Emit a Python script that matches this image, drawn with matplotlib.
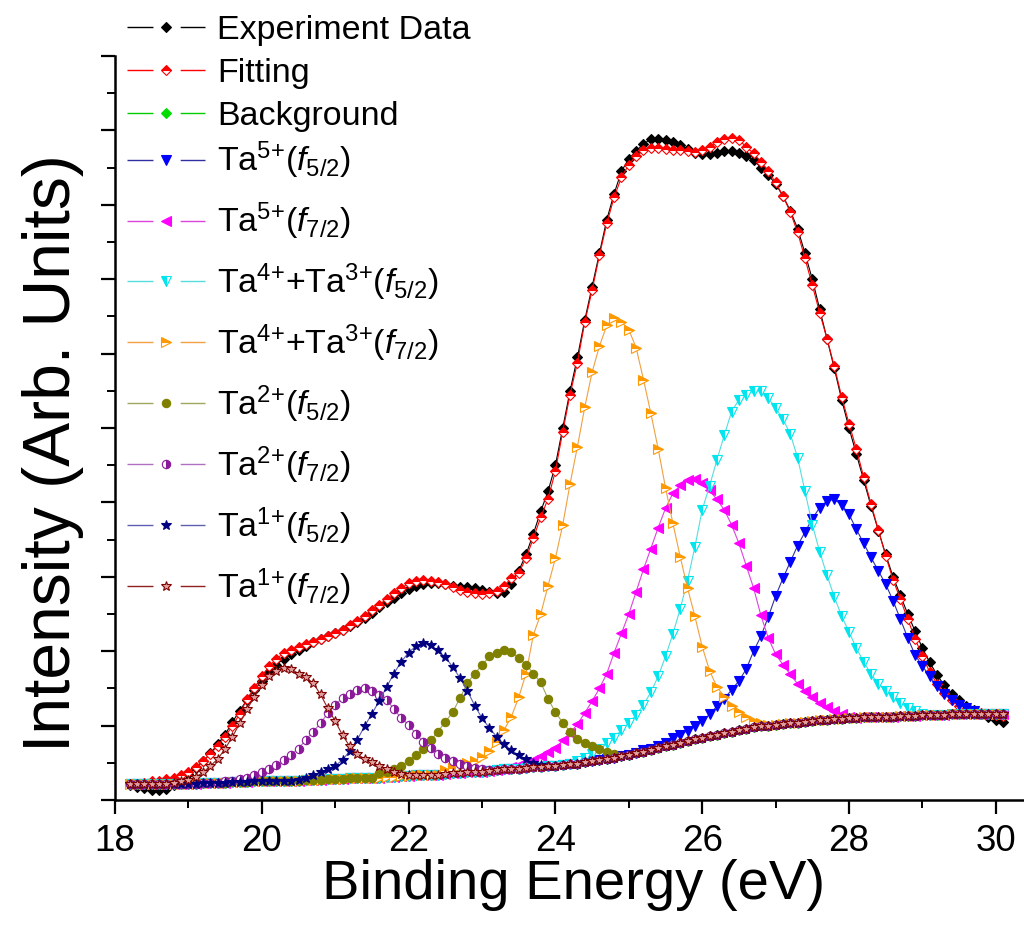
import numpy as np
import matplotlib
matplotlib.use("Agg")
import matplotlib.pyplot as plt
from matplotlib.lines import Line2D
from matplotlib.ticker import MultipleLocator, NullFormatter

plt.rcParams['font.family'] = 'Liberation Sans'
plt.rcParams['mathtext.fontset'] = 'custom'
plt.rcParams['mathtext.rm'] = 'Liberation Sans'
plt.rcParams['mathtext.it'] = 'Liberation Sans:italic'

# binding energy grid, 0.1 eV step
energy = np.round(np.arange(18.2, 30.15, 0.1), 1)

experiment = [
	0.20, 0.18, 0.16, 0.14, 0.13, 0.15, 0.20, 0.27,
	0.35, 0.43, 0.52, 0.63, 0.75, 0.88, 1.05, 1.20, 1.35, 1.48,
	1.60, 1.72, 1.82, 1.90, 1.96, 2.02, 2.07, 2.12, 2.16, 2.20,
	2.24, 2.28, 2.34, 2.39, 2.45, 2.52, 2.60, 2.66, 2.72, 2.78,
	2.84, 2.88, 2.90, 2.91, 2.91, 2.90, 2.88, 2.86, 2.86, 2.85,
	2.82, 2.79, 2.78, 2.80, 2.90, 3.08, 3.30, 3.58, 3.88, 4.15,
	4.50, 5.00, 5.50, 5.95, 6.45, 6.90, 7.35, 7.80, 8.15, 8.45,
	8.62, 8.72, 8.82, 8.88, 8.88, 8.87, 8.85, 8.80, 8.75, 8.70,
	8.68, 8.68, 8.70, 8.72, 8.72, 8.70, 8.66, 8.60, 8.50, 8.40,
	8.28, 8.12, 7.92, 7.68, 7.35, 7.00, 6.60, 6.20, 5.80, 5.38,
	5.00, 4.65, 4.30, 3.95, 3.62, 3.30, 3.00, 2.75, 2.50, 2.27,
	2.04, 1.85, 1.68, 1.54, 1.43, 1.34, 1.27, 1.21, 1.16, 1.12,
	1.08, 1.05]

fitting = [
	0.21, 0.22, 0.23, 0.25, 0.26, 0.28, 0.29, 0.33,
	0.38, 0.45, 0.52, 0.62, 0.73, 0.85, 1.00, 1.16, 1.36, 1.51,
	1.66, 1.80, 1.90, 1.97, 2.02, 2.06, 2.10, 2.13, 2.17, 2.20,
	2.24, 2.29, 2.35, 2.40, 2.47, 2.55, 2.62, 2.70, 2.78, 2.85,
	2.91, 2.95, 2.96, 2.95, 2.93, 2.90, 2.86, 2.82, 2.80, 2.78,
	2.77, 2.78, 2.81, 2.88, 2.98, 3.05, 3.25, 3.52, 3.80, 4.05,
	4.42, 4.95, 5.45, 5.88, 6.42, 6.85, 7.32, 7.75, 8.10, 8.37,
	8.54, 8.66, 8.73, 8.76, 8.76, 8.75, 8.74, 8.73, 8.72, 8.71,
	8.73, 8.78, 8.84, 8.88, 8.90, 8.87, 8.78, 8.69, 8.58, 8.45,
	8.30, 8.12, 7.90, 7.63, 7.28, 6.92, 6.55, 6.20, 5.83, 5.42,
	5.06, 4.72, 4.34, 3.98, 3.63, 3.28, 2.96, 2.70, 2.43, 2.17,
	1.93, 1.72, 1.56, 1.44, 1.35, 1.27, 1.21, 1.19, 1.17, 1.15,
	1.14, 1.13]

background = [
	0.21, 0.21, 0.21, 0.21, 0.21, 0.22, 0.22, 0.22,
	0.22, 0.22, 0.23, 0.23, 0.23, 0.23, 0.24, 0.24, 0.24, 0.25,
	0.25, 0.25, 0.25, 0.26, 0.26, 0.26, 0.27, 0.27, 0.27, 0.28,
	0.28, 0.28, 0.29, 0.29, 0.30, 0.30, 0.30, 0.31, 0.31, 0.32,
	0.32, 0.33, 0.33, 0.34, 0.34, 0.35, 0.36, 0.36, 0.37, 0.38,
	0.38, 0.39, 0.40, 0.41, 0.42, 0.42, 0.43, 0.44, 0.45, 0.46,
	0.46, 0.47, 0.48, 0.49, 0.51, 0.52, 0.54, 0.55, 0.57, 0.59,
	0.61, 0.63, 0.65, 0.67, 0.70, 0.72, 0.74, 0.77, 0.79, 0.82,
	0.84, 0.86, 0.88, 0.90, 0.92, 0.94, 0.96, 0.98, 0.99, 1.00,
	1.01, 1.02, 1.03, 1.04, 1.05, 1.06, 1.07, 1.08, 1.09, 1.09,
	1.10, 1.10, 1.11, 1.11, 1.12, 1.12, 1.12, 1.13, 1.13, 1.13,
	1.14, 1.14, 1.14, 1.14, 1.15, 1.15, 1.15, 1.15, 1.15, 1.15,
	1.15, 1.15]

# component peaks: values where they rise above the background, and the energy they start at
ta5_f52_start = 25.2
ta5_f52 = [
	0.67, 0.69, 0.73, 0.77, 0.83, 0.88, 0.93, 0.99,
	1.06, 1.15, 1.26, 1.36, 1.48, 1.60, 1.76, 2.00, 2.20, 2.46,
	2.74, 2.98, 3.20, 3.42, 3.60, 3.78, 3.93, 4.02, 4.04, 3.97,
	3.84, 3.64, 3.45, 3.26, 3.08, 2.90, 2.68, 2.43, 2.18, 1.95,
	1.80, 1.66, 1.53, 1.42, 1.34, 1.28, 1.23, 1.19, 1.16, 1.15]

ta5_f72_start = 23.3
ta5_f72 = [
	0.42, 0.44, 0.47, 0.50, 0.54, 0.59, 0.65,
	0.70, 0.80, 0.90, 1.02, 1.17, 1.33, 1.50, 1.70, 1.98, 2.24,
	2.50, 2.80, 3.10, 3.38, 3.66, 3.92, 4.12, 4.23, 4.30, 4.32,
	4.26, 4.16, 4.04, 3.90, 3.70, 3.45, 3.15, 2.85, 2.48, 2.18,
	1.96, 1.82, 1.69, 1.56, 1.46, 1.38, 1.31, 1.25, 1.20, 1.16,
	1.12]

ta43_f52_start = 24.3
ta43_f52 = [
	0.52, 0.56, 0.62, 0.68, 0.76, 0.84, 0.94,
	1.04, 1.14, 1.28, 1.45, 1.66, 1.93, 2.23, 2.57, 2.95, 3.40,
	3.90, 4.22, 4.57, 4.90, 5.22, 5.38, 5.45, 5.50, 5.50, 5.40,
	5.27, 5.12, 4.92, 4.60, 4.15, 3.70, 3.34, 3.02, 2.73, 2.47,
	2.26, 2.04, 1.86, 1.69, 1.56, 1.47, 1.39, 1.31, 1.24, 1.19,
	1.16]

ta43_f72_start = 22.5
ta43_f72 = [
	0.40, 0.43, 0.46, 0.50, 0.53,
	0.58, 0.66, 0.78, 0.94, 1.12, 1.38, 1.70, 2.22, 2.50, 2.88,
	3.25, 3.70, 4.25, 4.75, 5.28, 5.75, 6.10, 6.38, 6.48, 6.43,
	6.32, 6.08, 5.65, 5.20, 4.72, 4.20, 3.72, 3.27, 2.85, 2.47,
	2.06, 1.74, 1.52, 1.39, 1.27, 1.18, 1.11, 1.06, 1.03, 1.01]

ta2_f52_start = 21.6
ta2_f52 = [
	0.36, 0.38, 0.41, 0.46,
	0.53, 0.60, 0.69, 0.80, 0.92, 1.05, 1.18, 1.37, 1.57, 1.70,
	1.81, 1.93, 1.98, 2.02, 1.99, 1.91, 1.82, 1.70, 1.58, 1.36,
	1.18, 1.04, 0.92, 0.82, 0.77, 0.72, 0.68, 0.65, 0.62]

ta2_f72_start = 19.5
ta2_f72 = [
	0.25, 0.26, 0.28, 0.30, 0.34,
	0.37, 0.41, 0.47, 0.54, 0.61, 0.69, 0.81, 0.92, 1.03, 1.17,
	1.28, 1.37, 1.43, 1.48, 1.50, 1.47, 1.41, 1.35, 1.22, 1.10,
	1.01, 0.89, 0.78, 0.70, 0.62, 0.56, 0.52, 0.49, 0.46, 0.43,
	0.41, 0.40]

ta1_f52_start = 20.5
ta1_f52 = [
	0.27, 0.29, 0.33, 0.37, 0.41,
	0.46, 0.54, 0.66, 0.81, 0.99, 1.16, 1.33, 1.52, 1.70, 1.86,
	1.98, 2.07, 2.11, 2.08, 2.01, 1.92, 1.79, 1.64, 1.47, 1.27,
	1.10, 0.97, 0.85, 0.75, 0.67, 0.60, 0.55, 0.50, 0.47]

ta1_f72_start = 18.8
ta1_f72 = [
	0.23, 0.25,
	0.27, 0.31, 0.37, 0.46, 0.55, 0.69, 0.85, 1.03, 1.22, 1.39,
	1.55, 1.66, 1.74, 1.78, 1.76, 1.70, 1.65, 1.57, 1.42, 1.23,
	1.06, 0.87, 0.72, 0.62, 0.55, 0.51, 0.46, 0.41, 0.37, 0.35,
	0.33]

def on_background(start, values):
	y = np.array(background, dtype=float)
	i = int(np.argmin(np.abs(energy - start)))
	y[i:i+len(values)] = values
	return y

labels = [
	"Experiment Data",
	"Fitting",
	"Background",
	r"Ta$^{5{+}}$($\mathit{f}_{5/2}$)",
	r"Ta$^{5{+}}$($\mathit{f}_{7/2}$)",
	r"Ta$^{4{+}}$+Ta$^{3{+}}$($\mathit{f}_{5/2}$)",
	r"Ta$^{4{+}}$+Ta$^{3{+}}$($\mathit{f}_{7/2}$)",
	r"Ta$^{2{+}}$($\mathit{f}_{5/2}$)",
	r"Ta$^{2{+}}$($\mathit{f}_{7/2}$)",
	r"Ta$^{1{+}}$($\mathit{f}_{5/2}$)",
	r"Ta$^{1{+}}$($\mathit{f}_{7/2}$)",
]

series = [
	np.array(experiment),
	np.array(fitting),
	np.array(background),
	on_background(ta5_f52_start, ta5_f52),
	on_background(ta5_f72_start, ta5_f72),
	on_background(ta43_f52_start, ta43_f52),
	on_background(ta43_f72_start, ta43_f72),
	on_background(ta2_f52_start, ta2_f52),
	on_background(ta2_f72_start, ta2_f72),
	on_background(ta1_f52_start, ta1_f52),
	on_background(ta1_f72_start, ta1_f72),
]

# line colour, marker, face, edge, fillstyle, size
styles = [
	("#000000", "D", "#000000", "#000000", "full", 5.5),
	("#ff0000", "D", "#ff0000", "#ff0000", "top", 5.5),
	("#00cc00", "D", "#00dd00", "#00dd00", "full", 5.5),
	("#3030a0", "v", "#0000ff", "#0000ff", "full", 6.5),
	("#dd44dd", "<", "#ff00ff", "#ff00ff", "full", 6.5),
	("#55dddd", "v", "#00e5ee", "#00e5ee", "left", 6.5),
	("#f0a040", ">", "#ff9900", "#ff9900", "top", 6.5),
	("#a0a860", "o", "#808000", "#808000", "full", 6.0),
	("#b070c0", "o", "#8b1a9b", "#8b1a9b", "right", 6.0),
	("#6060b0", "*", "#000080", "#000080", "full", 7.5),
	("#902020", "*", "#e0a0a0", "#800000", "full", 7.5),
]

fig = plt.figure(figsize=(10.24, 9.3), dpi=100)
ax = fig.add_axes([115/1024, 130/930, 909/1024, 744/930])

handles = []
for y, lab, (lc, m, fc, ec, fs, ms) in zip(series, labels, styles):
	ax.plot(energy, y, color=lc, lw=0.8, marker=m, ms=ms, mfc=fc, mec=ec,
		mew=0.8, fillstyle=fs, markerfacecoloralt="white")
	handles.append(Line2D([], [], color=lc, lw=1.0, dashes=(18.7, 19.6),
		marker=m, ms=ms, mfc=fc, mec=ec, mew=0.8, fillstyle=fs,
		markerfacecoloralt="white", label=lab))

ax.set_xlim(18, 18 + 909/73.4)
ax.set_ylim(0, 10)
ax.xaxis.set_major_locator(MultipleLocator(2))
ax.xaxis.set_minor_locator(MultipleLocator(1))
ax.yaxis.set_major_locator(MultipleLocator(1))
ax.yaxis.set_minor_locator(MultipleLocator(0.5))
ax.yaxis.set_major_formatter(NullFormatter())

for s in ["top", "right"]:
	ax.spines[s].set_visible(False)
for s in ["left", "bottom"]:
	ax.spines[s].set_linewidth(1.8)

ax.tick_params(which="major", direction="out", length=10, width=1.6, labelsize=26.5, pad=7)
ax.tick_params(which="minor", direction="out", length=5.5, width=1.4)

ax.set_xlabel("Binding Energy (eV)", fontsize=40.5)
ax.set_ylabel("Intensity (Arb. Units)", fontsize=47.5)
ax.xaxis.set_label_coords(0.504, -0.079)
ax.yaxis.set_label_coords(-0.034, 0.466)

# plain entries and the Ta entries are spaced differently, so two legends
leg_opts = dict(loc="upper left", bbox_transform=fig.transFigure, frameon=False,
	fontsize=24.5, handlelength=2.29, handletextpad=0.35,
	borderpad=0, borderaxespad=0, numpoints=1)
leg1 = ax.legend(handles=handles[:3], bbox_to_anchor=(0.124, 0.9839),
	labelspacing=0.35, **leg_opts)
ax.add_artist(leg1)
ax.legend(handles=handles[3:], bbox_to_anchor=(0.124, 0.8495),
	labelspacing=0.57, **leg_opts)

plt.savefig("out.png", dpi=100)
